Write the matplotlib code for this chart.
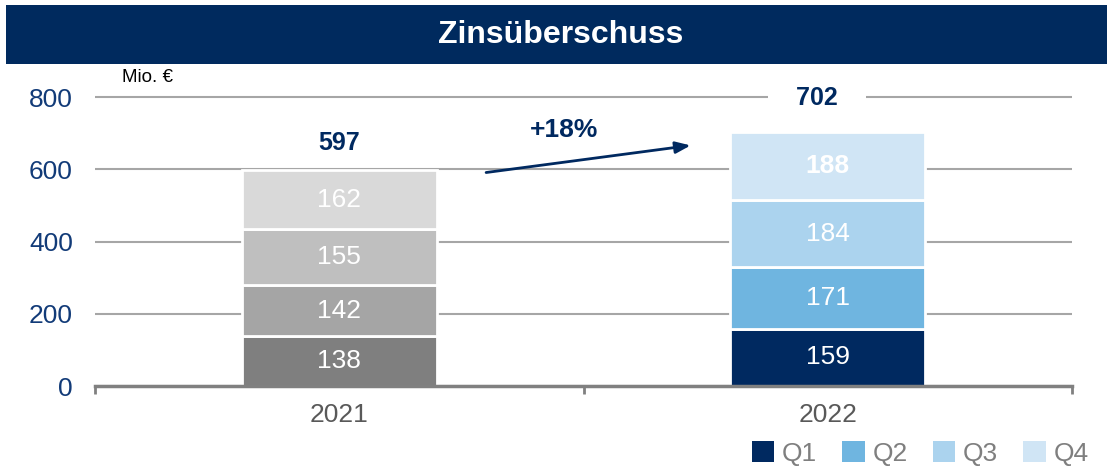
import matplotlib
matplotlib.use("Agg")
import matplotlib.pyplot as plt
from matplotlib.patches import Rectangle, Patch

plt.rcParams['font.family'] = ['Liberation Sans', 'DejaVu Sans']

years = ["2021", "2022"]
quarters = ["Q1", "Q2", "Q3", "Q4"]
values_2021 = [138, 142, 155, 162]
values_2022 = [159, 171, 184, 188]
totals = [597, 702]
growth_label = "+18%"
title = "Zinsüberschuss"
unit_label = "Mio. €"
yticks = [0, 200, 400, 600, 800]

colors_2021 = ["#7f7f7f", "#a5a5a5", "#bfbfbf", "#d9d9d9"]
colors_2022 = ["#002960", "#6fb5e0", "#abd3ee", "#d0e5f5"]
navy = "#002960"

fig = plt.figure(figsize=(11.07, 4.66), dpi=100)
ax = fig.add_axes([95/1107, 1-386/466, (1072-95)/1107, (386-89.8)/466])

# title band
fig.patches.append(Rectangle((6/1107, 1-64/466), 1, 59/466, transform=fig.transFigure,
                             facecolor="#002a5e", edgecolor="none", zorder=0))
fig.text(561/1107, 1-35/466, title, color="white", fontsize=23, fontweight="bold",
         ha="center", va="center")

xpos = [0.5, 1.5]
width = 0.4
series = [values_2021, values_2022]
cols = [colors_2021, colors_2022]
for i, (vals, cs) in enumerate(zip(series, cols)):
    bottom = 0
    for q, (v, c) in enumerate(zip(vals, cs)):
        ax.bar(xpos[i], v, width, bottom=bottom, color=c, edgecolor="white", linewidth=2, zorder=3)
        bold = (i == 1 and q == 3)
        ax.text(xpos[i], bottom + v/2, str(v), color="white", fontsize=19,
                fontweight="bold" if bold else "normal", ha="center", va="center", zorder=4)
        bottom += v

# totals
ax.annotate(str(totals[0]), (xpos[0], sum(values_2021)), xytext=(0, 19.5), textcoords="offset points",
            ha="center", va="center", fontsize=18, fontweight="bold", color=navy, zorder=5)
ax.annotate(" " + str(totals[1]) + " ", (xpos[1] - 0.022, sum(values_2022)), xytext=(0, 25),
            textcoords="offset points", ha="center", va="center", fontsize=18, fontweight="bold",
            color=navy, zorder=2, bbox=dict(facecolor="white", edgecolor="none", pad=15))

# growth arrow
ax.annotate("", xy=(1.225, 667), xytext=(0.795, 590),
            arrowprops=dict(arrowstyle="-|>,head_length=0.9,head_width=0.35", color=navy, lw=2), zorder=5)
ax.text(0.96, 709, growth_label, fontsize=19, fontweight="bold", color=navy, ha="center", va="center")

ax.set_xlim(0, 2)
ax.set_ylim(0, 820)
ax.set_yticks(yticks)
ax.set_yticklabels([str(t) for t in yticks], fontsize=19, color="#123b78")
ax.tick_params(axis="y", length=0, pad=16)
ax.set_xticks([0, 1, 2])
ax.set_xticklabels([])
ax.set_xticks(xpos, minor=True)
ax.set_xticklabels(years, minor=True, fontsize=19, color="#595959")
ax.tick_params(axis="x", which="major", length=6, width=2, color="#808080", direction="out")
ax.tick_params(axis="x", which="minor", length=0, pad=12)
ax.grid(axis="y", color="#a6a6a6", linewidth=1.5, zorder=0)
for s in ["top", "right", "left"]:
    ax.spines[s].set_visible(False)
ax.spines["bottom"].set_color("#808080")
ax.spines["bottom"].set_linewidth(2.5)
ax.spines["bottom"].set_zorder(5)

fig.text(122/1107, 1-77/466, unit_label, fontsize=13.5, color="black", ha="left", va="center")

handles = [Patch(facecolor=c, edgecolor="none") for c in colors_2022]
fig.legend(handles, quarters, loc="lower right", bbox_to_anchor=(1.005, -0.05), ncol=4, frameon=False,
           fontsize=19, handlelength=0.85, handleheight=0.85, handletextpad=0.3, columnspacing=0.95,
           labelcolor="#7f7f7f")

fig.savefig("out.png", dpi=100)
